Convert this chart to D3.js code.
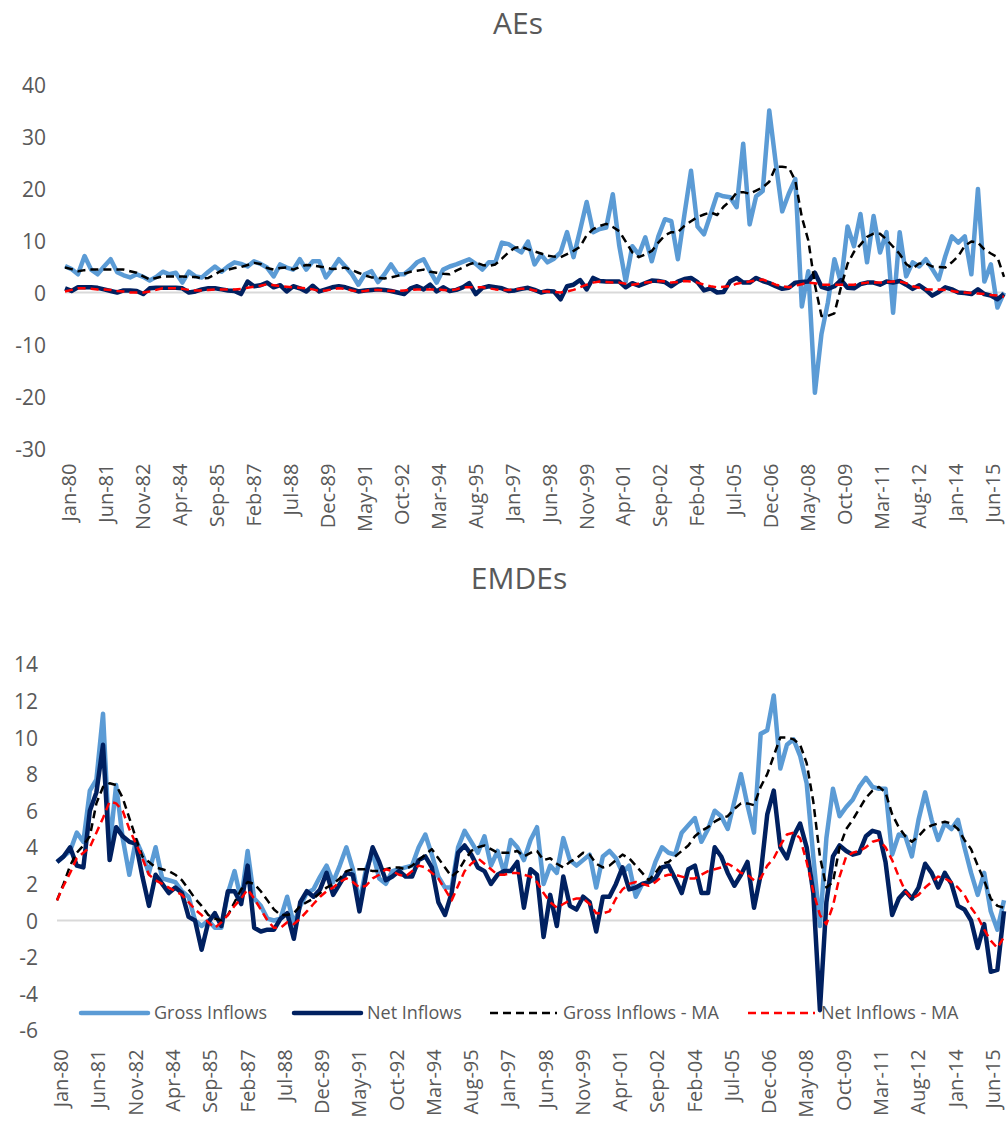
<!DOCTYPE html>
<html>
<head>
<meta charset="utf-8">
<script src="https://d3js.org/d3.v7.min.js"></script>
<style>
  body { margin: 0; background: #ffffff; }
  svg text { font-family: "Open Sans", sans-serif; fill: #595959; }
  .zero { stroke: #d9d9d9; stroke-width: 2; }
  .line { fill: none; stroke-linejoin: round; }
</style>
</head>
<body>
<script>
// ---- data (quarterly, Jan-80 onwards) ----
var tickLabels = ["Jan-80","Jun-81","Nov-82","Apr-84","Sep-85","Feb-87","Jul-88","Dec-89","May-91","Oct-92",
  "Mar-94","Aug-95","Jan-97","Jun-98","Nov-99","Apr-01","Sep-02","Feb-04","Jul-05","Dec-06",
  "May-08","Oct-09","Mar-11","Aug-12","Jan-14","Jun-15"];

var aeGross = [5.1,4.5,3.5,7.0,4.4,3.5,5.0,6.4,3.9,3.3, 2.9,3.5,3.0,2.3,3.0,4.0,3.5,3.8,1.9,4.0,
  3.1,2.9,4.0,5.0,4.0,5.0,5.8,5.5,5.0,6.0, 5.5,4.8,3.1,5.4,4.8,4.4,6.4,4.4,6.0,6.0,
  2.9,4.5,6.4,5.0,3.5,1.5,3.5,4.1,2.0,3.5, 5.4,3.5,3.5,4.5,5.8,6.4,4.0,1.9,4.4,5.0,
  5.4,5.9,6.4,5.5,4.4,5.8,5.8,9.6,9.3,8.5, 7.7,9.8,5.4,7.3,5.8,6.5,7.7,11.6,6.8,12.0,
  17.4,11.6,12.2,12.5,18.9,9.0,2.1,8.9,7.3,10.6, 6.0,10.8,14.1,13.7,6.4,15.0,23.4,12.7,11.2,15.0,
  18.9,18.5,18.3,16.4,28.6,13.1,18.5,19.5,35.0,25.0, 15.6,19.0,21.8,-2.7,4.1,-19.3,-8.0,-1.9,6.4,1.9,
  12.7,8.9,15.1,5.8,14.7,7.7,11.6,-3.9,11.6,3.1, 5.8,5.0,6.4,4.5,2.5,7.0,10.8,9.6,10.8,3.5,
  19.9,2.1,5.4,-2.9,0.0];
var aeNet = [0.8,0.3,1.0,1.0,1.0,0.9,0.6,0.3,0.0,0.4, 0.4,0.3,-0.3,0.8,0.9,0.9,0.9,0.9,0.8,0.0,
  0.2,0.6,0.8,0.8,0.6,0.4,0.3,-0.3,2.1,1.2, 1.4,1.9,1.0,1.4,0.2,1.2,0.8,0.2,1.3,0.2,
  0.6,1.0,1.2,1.0,0.6,0.2,0.4,0.5,0.6,0.5, 0.3,0.0,-0.3,0.8,1.2,0.6,1.5,0.2,1.0,0.3,
  0.5,1.0,1.8,-0.3,0.9,1.2,1.0,0.8,0.3,0.4, 0.7,0.9,0.5,0.0,0.3,0.2,-1.3,1.2,1.5,2.4,
  0.6,2.8,2.2,2.1,2.1,2.1,1.0,1.8,1.3,1.8, 2.3,2.2,2.0,1.2,2.1,2.6,2.8,2.0,0.4,0.8,
  0.0,0.1,2.1,2.8,1.9,1.9,2.8,2.2,1.8,1.2, 0.7,0.9,1.9,2.0,2.1,3.8,1.1,0.7,1.2,2.4,
  0.9,0.8,1.6,1.9,1.9,1.5,2.1,1.9,2.2,1.5, 0.7,1.4,0.5,-0.6,0.1,1.0,0.6,0.0,-0.1,-0.3,
  0.6,-0.3,-0.6,-1.3,-0.3];
var aeGrossMA = [4.8,4.5,4.1,4.3,4.4,4.4,4.4,4.4,4.4,4.4, 4.1,3.8,3.1,2.5,2.8,3.1,3.1,3.1,3.1,3.0,
  3.0,2.7,2.8,3.5,4.2,4.4,4.7,4.9,5.3,5.7, 5.5,4.7,4.4,4.7,4.8,4.4,4.9,5.3,5.2,5.0,
  4.8,4.5,4.6,4.8,4.3,3.8,3.3,2.9,2.8,2.7, 2.9,3.2,3.6,4.0,4.2,4.4,4.0,3.8,3.6,3.5,
  4.2,4.8,5.4,5.8,5.3,5.1,5.4,6.5,7.7,8.6, 8.8,8.3,7.9,7.5,7.1,6.9,6.8,7.4,8.0,8.8,
  11.0,12.2,12.8,13.2,12.6,11.8,9.8,7.7,6.8,7.3, 8.0,9.6,11.0,11.6,11.6,12.8,13.7,14.5,15.0,15.4,
  14.9,16.5,17.6,19.2,19.3,19.0,19.6,20.2,21.3,24.2, 24.2,24.0,21.5,14.5,10.0,1.5,-4.5,-4.5,-4.0,1.0,
  5.5,7.8,9.2,10.7,11.3,11.3,10.2,8.8,7.4,5.5, 4.6,5.6,5.6,5.0,4.9,4.8,5.8,7.0,9.0,9.8,
  9.6,8.3,7.5,6.8,3.0];
var aeNetMA = [0.2,0.5,0.8,0.8,0.7,0.6,0.6,0.5,0.3,0.2, 0.0,0.0,0.0,0.2,0.5,0.8,0.8,0.8,0.7,0.5,
  0.4,0.4,0.5,0.6,0.6,0.6,0.6,0.7,0.9,1.1, 1.3,1.6,1.4,1.2,1.1,1.0,0.9,0.8,0.6,0.3,
  0.4,0.6,0.8,0.7,0.4,0.2,0.3,0.5,0.5,0.4, 0.3,0.3,0.4,0.5,0.6,0.6,0.6,0.6,0.5,0.4,
  0.6,1.0,1.0,1.0,1.0,0.8,0.6,0.5,0.5,0.6, 0.7,0.7,0.4,0.2,0.2,0.1,0.0,0.2,0.5,1.0,
  1.5,1.9,2.1,2.0,1.9,1.9,1.7,1.5,1.7,1.9, 2.0,2.2,2.1,1.9,2.0,2.2,2.1,1.9,1.5,1.2,
  1.0,1.1,1.2,1.7,1.9,2.1,2.3,2.5,2.0,1.5, 1.2,1.0,1.3,1.6,1.9,1.8,1.5,1.5,1.5,1.5,
  1.5,1.5,1.7,1.9,1.9,1.9,2.0,2.1,2.1,1.8, 1.2,0.9,0.6,0.6,0.6,0.5,0.3,0.1,0.0,-0.1,
  -0.2,-0.3,-0.5,-0.6,-0.8];

var emGross = [3.2,3.5,3.8,4.8,4.3,7.1,7.7,11.3,4.0,7.4, 4.5,2.5,4.4,3.6,2.6,4.0,2.3,2.2,2.1,1.6,
  1.3,0.0,-0.3,0.0,-0.4,-0.4,1.5,2.7,1.1,3.8, 1.2,0.8,0.1,0.0,0.1,1.3,-0.2,0.8,1.5,1.7,
  2.4,3.0,2.1,3.0,4.0,2.8,1.0,2.8,3.7,2.3, 2.0,2.7,2.8,2.9,3.0,4.0,4.7,3.6,2.4,1.8,
  1.8,4.0,4.9,4.3,3.7,4.6,3.0,3.8,2.6,4.4, 4.0,3.3,4.4,5.1,2.0,3.0,2.6,4.5,3.3,3.0,
  3.3,3.6,1.8,3.5,3.8,3.4,2.6,3.0,1.3,2.0, 2.1,3.2,4.0,3.7,3.6,4.8,5.2,5.6,4.3,5.0,
  6.0,5.7,5.0,6.5,8.0,6.3,4.8,10.2,10.4,12.3, 8.3,9.6,9.9,9.0,7.5,3.5,-0.3,4.5,7.2,5.7,
  6.2,6.6,7.3,7.8,7.3,7.2,7.2,3.6,4.7,4.6, 3.5,5.5,7.0,5.5,4.4,5.3,5.0,5.5,4.0,2.6,
  1.4,2.6,0.5,-0.5,1.1];
var emNet = [3.2,3.5,4.0,3.0,2.9,6.0,7.0,9.6,3.3,5.1, 4.6,4.3,4.2,2.4,0.8,2.5,2.0,1.5,1.8,1.5,
  0.2,0.0,-1.6,-0.1,0.4,-0.3,1.6,1.6,0.9,3.0, -0.4,-0.6,-0.5,-0.5,0.1,0.4,-1.0,1.0,1.6,1.3,
  1.7,2.6,1.4,2.0,2.6,2.5,0.5,2.5,4.0,3.2, 2.2,2.4,2.7,2.4,2.4,3.3,3.5,2.9,1.0,0.3,
  1.5,3.7,4.1,3.6,2.9,2.7,2.0,2.5,2.7,2.7, 3.2,0.7,2.8,2.5,-0.9,1.4,-0.3,2.4,0.8,0.6,
  1.3,1.0,-0.6,1.3,1.3,2.0,2.9,1.7,1.8,2.0, 2.1,2.3,2.9,3.0,2.3,1.5,2.8,3.0,1.5,1.5,
  4.0,3.5,2.6,1.9,2.5,3.2,0.7,2.5,5.8,7.1, 4.0,3.4,4.6,5.3,4.0,1.5,-4.9,1.0,3.5,4.1,
  3.8,3.6,3.7,4.6,4.9,4.8,3.2,0.3,1.2,1.6, 1.2,1.8,3.1,2.6,1.8,2.6,2.0,0.8,0.6,0.0,
  -1.5,-0.2,-2.8,-2.7,0.5];
var emGrossMA = [1.1,2.0,3.0,3.7,4.1,4.6,6.4,7.3,7.5,7.4, 6.7,5.6,4.5,3.5,3.2,2.9,2.8,2.7,2.5,2.2,
  1.7,1.2,0.8,0.3,0.1,0.0,0.3,1.0,1.7,2.1, 2.0,1.6,1.1,0.6,0.3,0.3,0.4,0.8,1.0,1.2,
  1.5,1.8,2.0,2.3,2.7,2.8,2.8,2.8,2.7,2.7, 2.8,2.9,2.9,2.8,3.0,3.3,3.6,3.9,3.4,2.9,
  2.4,2.7,3.3,3.8,4.0,4.1,3.9,3.7,3.7,3.7, 3.8,3.5,3.7,3.8,3.3,3.4,3.1,2.9,3.2,3.4,
  3.7,3.6,3.1,2.9,3.0,3.3,3.6,3.4,3.0,2.6, 2.2,2.6,3.1,3.2,3.5,3.8,4.1,4.6,4.9,5.1,
  5.4,5.6,5.7,6.1,6.4,6.4,6.3,7.3,8.0,9.0, 10.0,10.0,9.9,9.6,8.6,6.5,3.5,1.8,2.1,4.0,
  5.0,5.5,6.1,6.7,7.1,7.3,7.0,5.8,5.1,4.6, 4.3,4.6,5.0,5.2,5.3,5.4,5.3,5.0,4.4,3.9,
  3.0,2.2,1.2,0.8,0.7];
var emNetMA = [1.1,1.9,2.6,3.4,3.7,4.0,4.8,5.6,6.5,6.4, 6.0,5.0,4.2,3.4,2.5,2.2,2.0,1.8,1.6,1.4,
  1.0,0.6,0.3,-0.1,-0.4,-0.1,0.3,0.8,1.2,1.7, 1.2,0.6,0.0,-0.4,-0.4,-0.1,-0.2,0.1,0.5,0.9,
  1.3,1.6,1.8,2.1,2.3,2.1,1.8,1.9,2.3,2.5, 2.8,2.7,2.5,2.4,2.7,3.0,2.9,2.6,2.3,1.7,
  1.1,1.9,2.7,3.1,3.4,3.1,2.8,2.5,2.5,2.6, 2.6,2.5,2.4,2.1,1.5,1.0,0.7,0.9,1.1,1.2,
  1.2,0.9,0.4,0.4,0.5,1.2,1.7,2.0,2.1,2.0, 1.9,2.1,2.4,2.5,2.5,2.4,2.3,2.3,2.5,2.7,
  2.8,2.9,3.1,2.9,2.6,2.5,2.2,2.3,3.0,3.4, 4.1,4.7,4.8,4.5,3.2,1.6,0.3,-0.2,0.8,2.4,
  3.5,3.7,3.8,4.0,4.3,4.4,4.0,3.3,2.4,1.6, 1.2,1.4,1.8,2.1,2.4,2.3,2.1,1.8,1.4,0.7,
  0.2,-0.5,-1.1,-1.5,-0.9];

var seriesNames = ["Gross Inflows", "Net Inflows", "Gross Inflows - MA", "Net Inflows - MA"];
var seriesColors = ["#5b9bd5", "#002060", "#000000", "#ff0000"];

// ---- canvas ----
var width = 1008, height = 1122;
var svg = d3.select("body").append("svg")
    .attr("width", width)
    .attr("height", height);

var parseTick = d3.timeParse("%b-%y");
var tickDates = tickLabels.map(parseTick);
var dates = d3.timeMonth.every(3).range(new Date(1980, 0, 1), new Date(2016, 1, 1));

function styleOf(k) {
    if (k == 0) return { w: 4.5, dash: null };
    if (k == 1) return { w: 4.5, dash: null };
    return { w: 2.5, dash: "8,5" };
}

function drawPanel(p) {
    var g = svg.append("g");

    var x = d3.scaleTime()
        .domain([dates[0], dates[dates.length - 1]])
        .range([p.left, p.right]);
    var y = d3.scaleLinear()
        .domain(p.domain)
        .range([p.bottom, p.top]);

    // title
    g.append("text")
        .attr("x", p.titleX).attr("y", p.titleY)
        .attr("text-anchor", "middle")
        .style("font-size", "30px")
        .text(p.title);

    // y axis labels (no line, no ticks), plain hyphen minus like the original
    var yAxis = d3.axisLeft(y).tickValues(p.yTicks).tickSize(0).tickPadding(0)
        .tickFormat(function(d) { return String(d); });
    var ya = g.append("g")
        .attr("transform", "translate(" + (p.left - 19) + ",0)")
        .call(yAxis);
    ya.select(".domain").remove();
    ya.selectAll("text").style("font-size", "21px").attr("dy", "0.36em");

    // zero line
    g.append("line").attr("class", "zero")
        .attr("x1", p.left).attr("x2", p.right)
        .attr("y1", y(0)).attr("y2", y(0));

    // x axis labels (low position, rotated)
    var xAxis = d3.axisBottom(x).tickValues(tickDates).tickSize(0).tickFormat(function(d, i) { return tickLabels[i]; });
    var xa = g.append("g")
        .attr("transform", "translate(0," + p.bottom + ")")
        .call(xAxis);
    xa.select(".domain").remove();
    xa.selectAll("text")
        .style("font-size", "20px")
        .attr("text-anchor", "end")
        .attr("transform", "rotate(-90)")
        .attr("x", -p.labelGap)
        .attr("y", 3.5)
        .attr("dy", "0.36em");

    // lines
    p.series.forEach(function(vals, k) {
        var s = styleOf(k);
        var line = d3.line()
            .x(function(d, i) { return x(dates[i]); })
            .y(function(d) { return y(d); });
        var path = g.append("path")
            .datum(vals)
            .attr("class", "line")
            .attr("stroke", seriesColors[k])
            .attr("stroke-width", s.w)
            .attr("d", line);
        if (s.dash) path.attr("stroke-dasharray", s.dash);
    });

    return g;
}

drawPanel({
    title: "AEs", titleX: 518, titleY: 34,
    left: 65, right: 1004, top: 84.5, bottom: 448.5,
    domain: [-30, 40], yTicks: d3.range(-30, 41, 10),
    labelGap: 15,
    series: [aeGross, aeNet, aeGrossMA, aeNetMA]
});

drawPanel({
    title: "EMDEs", titleX: 519, titleY: 589,
    left: 57, right: 1004, top: 664.3, bottom: 1030.3,
    domain: [-6, 14], yTicks: d3.range(-6, 15, 2),
    labelGap: 19,
    series: [emGross, emNet, emGrossMA, emNetMA]
});

// legend
var legendX = [81, 294, 490, 748];
var legendY = 1013;
var legend = svg.append("g").attr("class", "legend");
seriesNames.forEach(function(name, k) {
    var s = styleOf(k);
    var item = legend.append("g").attr("transform", "translate(" + legendX[k] + "," + legendY + ")");
    var ln = item.append("line")
        .attr("x1", 0).attr("x2", 67)
        .attr("y1", 0).attr("y2", 0)
        .attr("stroke", seriesColors[k])
        .attr("stroke-width", s.w)
        .attr("stroke-linecap", k < 2 ? "round" : "butt");
    if (s.dash) ln.attr("stroke-dasharray", s.dash);
    item.append("text")
        .attr("x", 73).attr("y", 0).attr("dy", "0.36em")
        .style("font-size", "18px")
        .text(name);
});
</script>
</body>
</html>
